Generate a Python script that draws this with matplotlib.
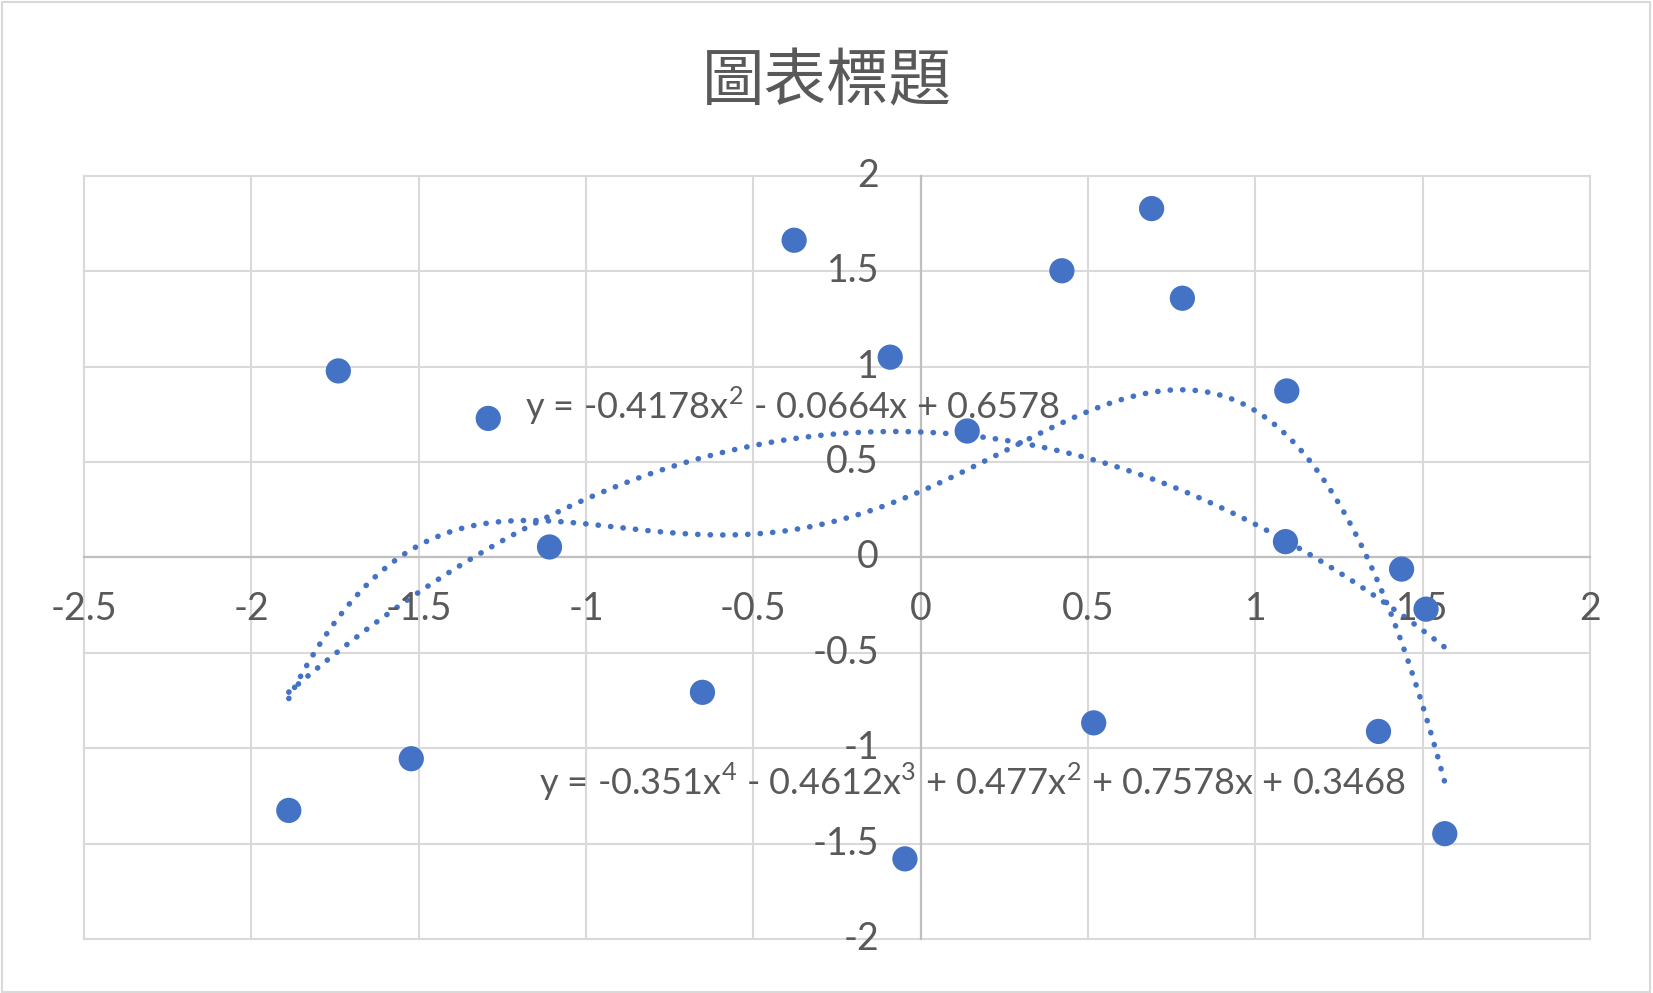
import numpy as np
import matplotlib
matplotlib.use("Agg")
from matplotlib import pyplot as plt
from matplotlib.patches import Rectangle

# ---- data
x_pts = [-1.888, -1.740, -1.522, -1.292, -1.109, -0.652, -0.378, -0.091, -0.047, 0.139,
         0.422, 0.517, 0.690, 0.782, 1.094, 1.090, 1.368, 1.437, 1.510, 1.566]
y_pts = [-1.326, 0.978, -1.055, 0.729, 0.055, -0.707, 1.663, 1.050, -1.580, 0.663,
         1.503, -0.867, 1.829, 1.359, 0.873, 0.083, -0.912, -0.061, -0.271, -1.448]

# trendline coefficients (highest power first), as printed on the chart
poly2 = [-0.4178, -0.0664, 0.6578]
poly4 = [-0.351, -0.4612, 0.477, 0.7578, 0.3468]
eq2 = r'y = -0.4178x$^{\mathrm{2}}$ - 0.0664x + 0.6578'
eq4 = (r'y = -0.351x$^{\mathrm{4}}$ - 0.4612x$^{\mathrm{3}}$ + 0.477x$^{\mathrm{2}}$'
       r' + 0.7578x + 0.3468')

xticks = [-2.5, -2, -1.5, -1, -0.5, 0, 0.5, 1, 1.5, 2]
yticks = [-2, -1.5, -1, -0.5, 0, 0.5, 1, 1.5, 2]
title = '圖表標題'

blue = '#4472C4'
txt = '#595959'

plt.rcParams['font.family'] = ['Lato', 'DejaVu Sans']
plt.rcParams['mathtext.fontset'] = 'custom'
plt.rcParams['mathtext.rm'] = 'Lato'

fig = plt.figure(figsize=(16.53, 9.93), dpi=100)
ax = fig.add_axes([0.0508, 0.0544, 0.9111, 0.7684])
ax.set_xlim(-2.5, 2)
ax.set_ylim(-2, 2)
ax.axis('off')

# gridlines
for v in xticks:
    ax.axvline(v, color='#D9D9D9', lw=1.5, clip_on=False, zorder=0)
for v in yticks:
    ax.axhline(v, color='#D9D9D9', lw=1.5, clip_on=False, zorder=0)
ax.axvline(0, color='#BFBFBF', lw=1.6, clip_on=False, zorder=1)
ax.axhline(0, color='#BFBFBF', lw=1.6, clip_on=False, zorder=1)

# tick labels next to the zero axes
for v in xticks:
    ax.annotate('{:g}'.format(v), (v, 0), xytext=(0, -37), textcoords='offset points',
                ha='center', va='center', fontsize=27, color=txt)
for v in yticks:
    ax.annotate('{:g}'.format(v), (0, v), xytext=(-30, 0), textcoords='offset points',
                ha='right', va='center', fontsize=27, color=txt)

# trendlines
xs = np.linspace(min(x_pts), max(x_pts), 300)
for c in (poly2, poly4):
    ax.plot(xs, np.polyval(c, xs), color=blue, lw=4, linestyle=(0, (0.05, 2.2)),
            dash_capstyle='round', zorder=2)

ax.scatter(x_pts, y_pts, s=330, color=blue, edgecolors='none', zorder=3, clip_on=False)

ax.text(-1.182, 0.794, eq2, fontsize=26, color=txt, ha='left', va='center', zorder=4)
ax.text(-1.140, -1.177, eq4, fontsize=26, color=txt, ha='left', va='center', zorder=4)

fig.text(0.5, 0.917, title, fontsize=45, color=txt, ha='center', va='center',
         family=['Noto Sans CJK TC', 'DejaVu Sans'])

fig.patches.append(Rectangle((0.001, 0.001), 0.997, 0.997, transform=fig.transFigure,
                             fill=False, edgecolor='#D9D9D9', lw=1.5))

plt.savefig('out.png', dpi=100)
